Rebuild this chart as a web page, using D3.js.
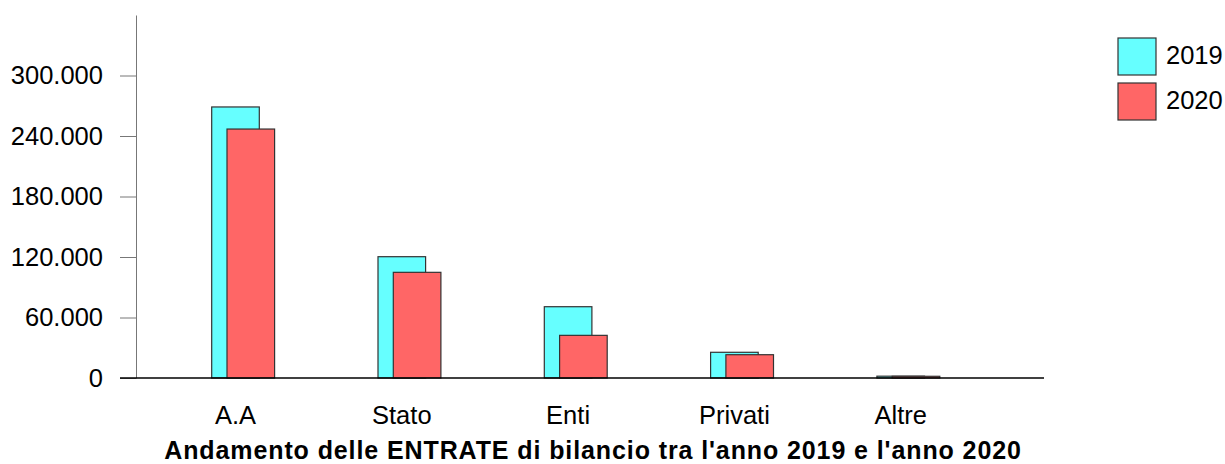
<!DOCTYPE html>
<html>
<head>
<meta charset="utf-8">
<script src="https://cdn.jsdelivr.net/npm/d3@7"></script>
<style>
  body { margin: 0; background: #fff; }
  svg { display: block; font-family: "Liberation Sans", Arial, sans-serif; }
</style>
</head>
<body>
<svg id="grafico" width="1225" height="464"></svg>
<script>
const categorie = ["A.A", "Stato", "Enti", "Privati", "Altre"];
const valori2019 = [268800, 120300, 70700, 25500, 1800];
const valori2020 = [246900, 104800, 42300, 23100, 1700];
const anni = ["2019", "2020"];
const coloriAnni = ["#66ffff", "#ff6666"];
const tickY = [0, 60000, 120000, 180000, 240000, 300000];

const svg = d3.select("#grafico");

// formato italiano: 300.000
const it = d3.formatLocale({ decimal: ",", thousands: ".", grouping: [3], currency: ["", " €"] });
const fmt = it.format(",d");

const x = d3.scalePoint().domain(categorie).range([235.5, 900.7]);
const y = d3.scaleLinear().domain([0, 360000]).range([378, 15]);

const larghezza = 47.6;
const scarto = 15.3;

// asse Y
const asseY = svg.append("g")
  .attr("transform", "translate(136,0)")
  .call(d3.axisLeft(y).tickValues(tickY).tickFormat(fmt).tickSize(16).tickSizeOuter(0).tickPadding(17));
asseY.select(".domain").attr("stroke", "#777");
asseY.selectAll(".tick line").attr("stroke", "#777");
asseY.selectAll(".tick text")
  .attr("font-size", 25.5)
  .attr("font-family", "Liberation Sans, Arial, sans-serif")
  .attr("fill", "#000");

// barre: prima il 2019, poi il 2020 sopra
const serie = [valori2019, valori2020];
serie.forEach((valori, s) => {
  svg.append("g")
    .selectAll("rect")
    .data(categorie)
    .join("rect")
    .attr("x", d => x(d) - larghezza / 2 + s * scarto)
    .attr("y", (d, i) => y(valori[i]))
    .attr("width", larghezza)
    .attr("height", (d, i) => y(0) - y(valori[i]))
    .attr("fill", coloriAnni[s])
    .attr("stroke", "#333")
    .attr("stroke-width", 1.2);
});

// linea di base
svg.append("line")
  .attr("x1", 120).attr("x2", 1044)
  .attr("y1", y(0)).attr("y2", y(0))
  .attr("stroke", "#000")
  .attr("stroke-width", 1.5);

// etichette categorie
svg.append("g")
  .selectAll("text")
  .data(categorie)
  .join("text")
  .attr("x", d => x(d))
  .attr("y", 424)
  .attr("text-anchor", "middle")
  .attr("font-size", 25.5)
  .text(d => d);

// titolo
svg.append("text")
  .attr("x", 593)
  .attr("y", 459)
  .attr("text-anchor", "middle")
  .attr("font-size", 25)
  .attr("font-weight", "bold")
  .attr("letter-spacing", 0.9)
  .text("Andamento delle ENTRATE di bilancio tra l'anno 2019 e l'anno 2020");

// legenda
const legenda = svg.append("g").attr("transform", "translate(1118,38)");
anni.forEach((a, i) => {
  const voce = legenda.append("g").attr("transform", `translate(0,${i * 45})`);
  voce.append("rect")
    .attr("width", 38).attr("height", 37)
    .attr("fill", coloriAnni[i])
    .attr("stroke", "#333")
    .attr("stroke-width", 1.2);
  voce.append("text")
    .attr("x", 48)
    .attr("y", 25.5)
    .attr("font-size", 25.5)
    .text(a);
});
</script>
</body>
</html>
